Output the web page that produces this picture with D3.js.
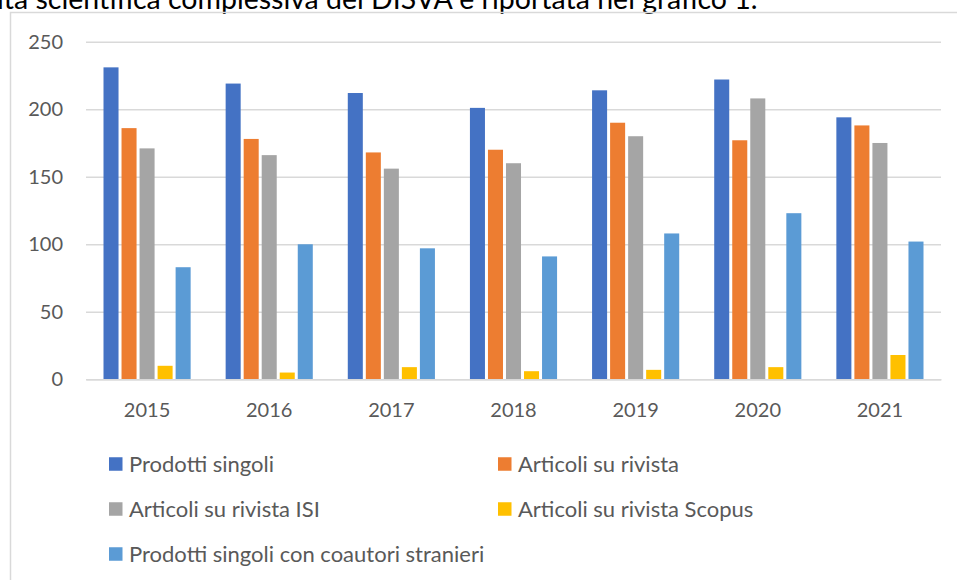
<!DOCTYPE html>
<html>
<head>
<meta charset="utf-8">
<script src="https://cdn.jsdelivr.net/npm/d3@7"></script>
<style>
  body { margin: 0; background: #fff; }
  svg { display: block; font-family: Lato, 'Open Sans', sans-serif; }
</style>
</head>
<body>
<div id="chart"></div>
<script>
const years = ['2015', '2016', '2017', '2018', '2019', '2020', '2021'];
const seriesNames = [
  'Prodotti singoli',
  'Articoli su rivista',
  'Articoli su rivista ISI',
  'Articoli su rivista Scopus',
  'Prodotti singoli con coautori stranieri'
];
const prodottiSingoli = [231, 219, 212, 201, 214, 222, 194];
const articoliRivista = [186, 178, 168, 170, 190, 177, 188];
const articoliISI = [171, 166, 156, 160, 180, 208, 175];
const articoliScopus = [10, 5, 9, 6, 7, 9, 18];
const coautoriStranieri = [83, 100, 97, 91, 108, 123, 102];
const yTicks = [0, 50, 100, 150, 200, 250];

const colors = ['#4472C4', '#ED7D31', '#A5A5A5', '#FFC000', '#5B9BD5'];
const allValues = [prodottiSingoli, articoliRivista, articoliISI, articoliScopus, coautoriStranieri];

const W = 957, H = 580;
const plot = { left: 86, right: 941, top: 41.7, bottom: 379.3 };

const svg = d3.select('#chart').append('svg')
  .attr('width', W)
  .attr('height', H);

// sentence above the chart, cut off by the top edge as in the page scan
svg.append('text')
  .attr('x', -3)
  .attr('y', 9)
  .attr('font-size', 28.5)
  .attr('fill', '#000')
  .text('ità scientifica complessiva del DISVA è riportata nel grafico 1.');

// chart frame (left and top edges visible)
svg.append('path')
  .attr('d', 'M10.5,' + H + 'V12.5H' + W)
  .attr('fill', 'none')
  .attr('stroke', '#d9d9d9')
  .attr('stroke-width', 1.5);

const x = d3.scaleBand()
  .domain(years)
  .range([plot.left, plot.right])
  .paddingInner(0.262)
  .paddingOuter(0.131);

const xs = d3.scaleBand()
  .domain(d3.range(seriesNames.length))
  .range([0, x.bandwidth()]);

const y = d3.scaleLinear()
  .domain([0, 250])
  .range([plot.bottom, plot.top]);

// gridlines
const yAxis = d3.axisLeft(y)
  .tickValues(yTicks)
  .tickSize(-(plot.right - plot.left))
  .tickPadding(23);

const yele = svg.append('g')
  .attr('class', 'y axis')
  .attr('transform', 'translate(' + plot.left + ',0)')
  .call(yAxis);
yele.select('.domain').remove();
yele.selectAll('line').attr('stroke', '#d9d9d9').attr('stroke-width', 1.5);
yele.selectAll('text')
  .attr('fill', '#595959')
  .attr('font-size', 20)
  .attr('font-family', "Lato, 'Open Sans', sans-serif");

const data = years.map((yr, i) => ({
  year: yr,
  values: allValues.map((arr, s) => ({ s: s, v: arr[i] }))
}));

const groups = svg.selectAll('.group').data(data)
  .enter()
  .append('g')
  .attr('class', 'group')
  .attr('transform', (d) => 'translate(' + x(d.year) + ',0)');

groups.selectAll('rect').data((d) => d.values)
  .enter()
  .append('rect')
  .attr('x', (d) => xs(d.s) + 1.5)
  .attr('width', xs.bandwidth() - 3)
  .attr('y', (d) => y(d.v))
  .attr('height', (d) => y(0) - y(d.v))
  .attr('fill', (d) => colors[d.s]);

// baseline axis
const xAxis = d3.axisBottom(x).tickSize(0).tickPadding(24);
const xele = svg.append('g')
  .attr('class', 'x axis')
  .attr('transform', 'translate(0,' + plot.bottom + ')')
  .call(xAxis);
xele.select('.domain').attr('stroke', '#d9d9d9').attr('stroke-width', 1.5);
xele.selectAll('text')
  .attr('fill', '#595959')
  .attr('font-size', 20)
  .attr('font-family', "Lato, 'Open Sans', sans-serif");

// legend
const legendPos = [
  [109, 464], [498, 464],
  [109, 509], [498, 509],
  [109, 554]
];
const legend = svg.selectAll('.legend').data(seriesNames)
  .enter()
  .append('g')
  .attr('class', 'legend')
  .attr('transform', (d, i) => 'translate(' + legendPos[i][0] + ',' + legendPos[i][1] + ')');

legend.append('rect')
  .attr('x', 0)
  .attr('y', -6.75)
  .attr('width', 13.5)
  .attr('height', 13.5)
  .attr('fill', (d, i) => colors[i]);

legend.append('text')
  .attr('x', 20)
  .attr('y', 0)
  .attr('dy', '0.35em')
  .attr('font-size', 22)
  .attr('fill', '#595959')
  .text((d) => d);
</script>
</body>
</html>
